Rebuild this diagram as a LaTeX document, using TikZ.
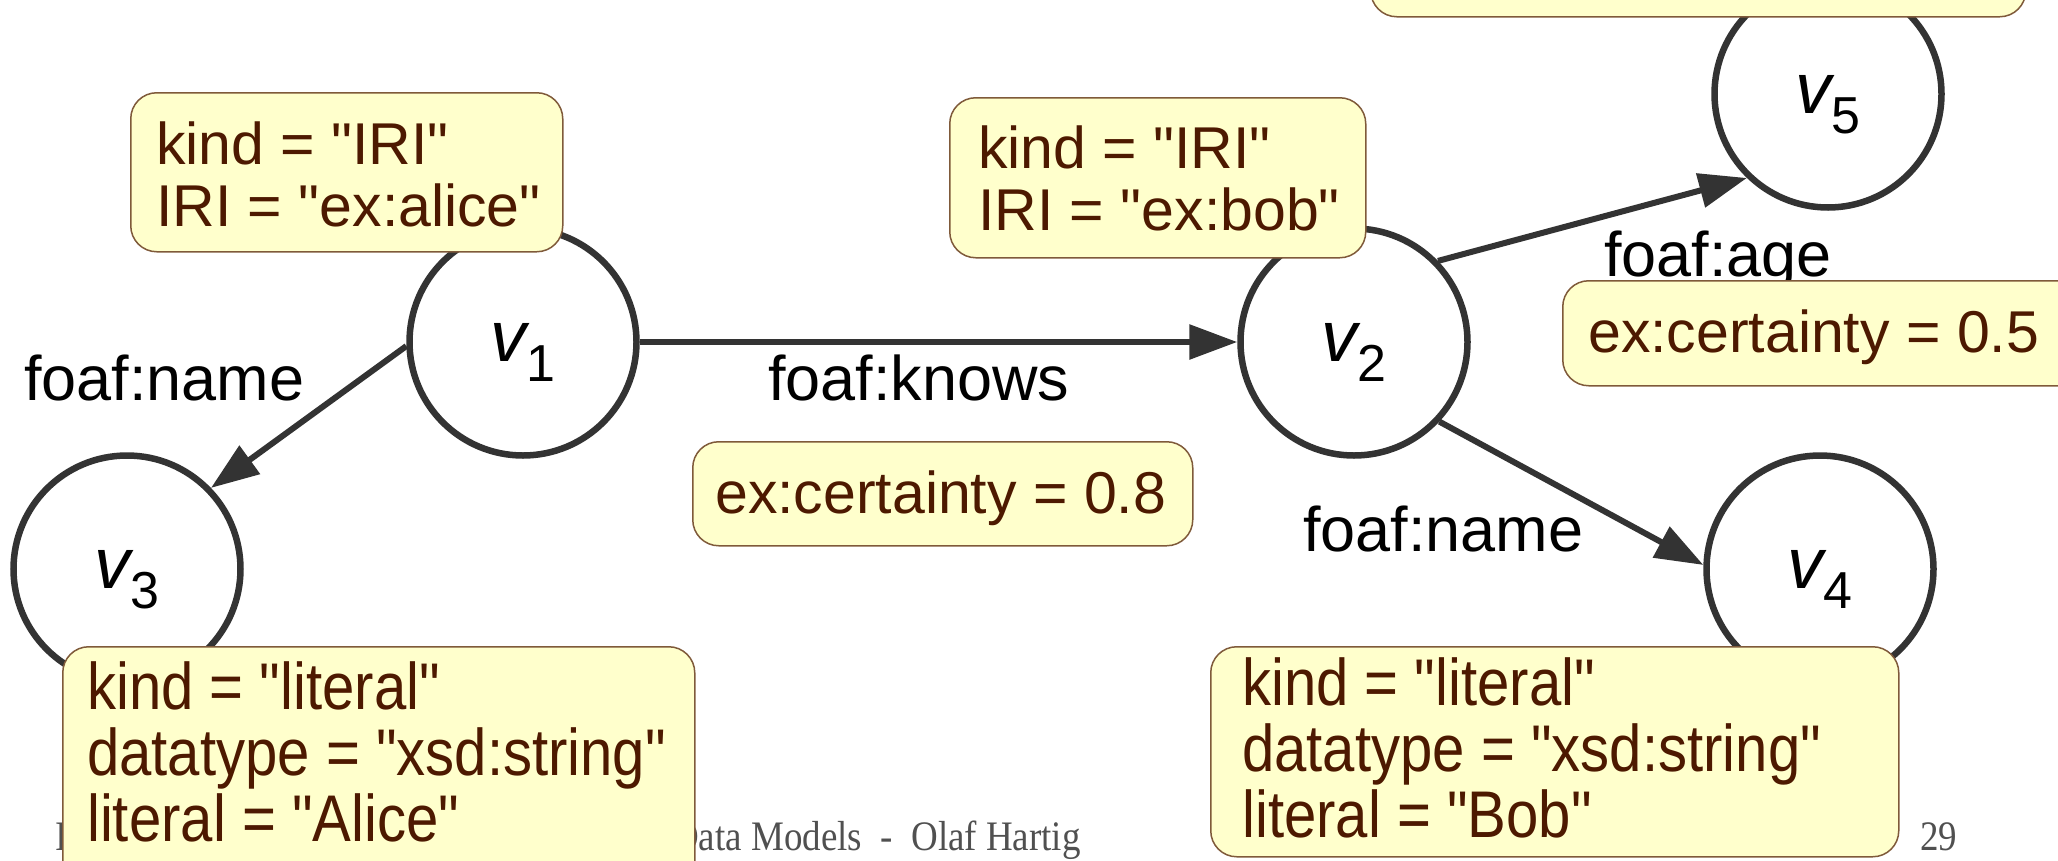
\documentclass[tikz,border=0pt]{standalone}
\usepackage{fontspec}
\newfontfamily\arialf{Liberation Sans}
\setmainfont{Liberation Sans}[Ligatures=Common]
\newfontfamily\condfont[FakeStretch=0.88]{Liberation Sans}
\newfontfamily\footfont[FakeStretch=0.88]{Liberation Serif}
\usetikzlibrary{arrows.meta}
\definecolor{edgegray}{HTML}{333333}
\definecolor{boxfill}{HTML}{FFFFCC}
\definecolor{boxline}{HTML}{7F5A3A}
\definecolor{boxtext}{HTML}{4D1900}
\definecolor{footgray}{HTML}{505050}
\newcommand\vlab[1]{{\arialf\fontsize{72}{72}\selectfont\itshape v}\raisebox{-20pt}{\arialf\fontsize{52}{52}\selectfont #1}}
\tikzset{
  vertex/.style={circle, draw=edgegray, line width=6.5pt, minimum size=227pt, inner sep=0pt, text height=38pt, text depth=0pt},
  edge/.style={draw=edgegray, line width=6pt, -{Triangle[length=48pt,width=34pt]}},
  propbox/.style={draw=boxline, fill=boxfill, line width=1.5pt, rounded corners=26pt, anchor=north west, inner sep=0pt},
  proptext/.style={text=boxtext, anchor=base west, inner sep=0pt, font=\arialf\fontsize{59}{62}\selectfont},
  proptextb/.style={text=boxtext, anchor=base west, inner sep=0pt, font=\condfont\fontsize{66}{66}\selectfont},
  elabel/.style={anchor=base west, inner sep=0pt, font=\arialf\fontsize{63}{63}\selectfont},
  foot/.style={anchor=base west, inner sep=0pt, text=footgray, font=\footfont\fontsize{42}{42}\selectfont},
}
\begin{document}
\begin{tikzpicture}[x=1pt,y=-1pt]
\useasboundingbox (0,0) rectangle (2058,860);
\clip (0,0) rectangle (2058,860);
% footer
\node[foot] (footI) at (55,850) {I};
\node[foot] (footmid) at (672,850) {Data Models\ \ -\ \ Olaf Hartig};
\node[foot] (footnum) at (1920,850) {29};
% vertices
\node[vertex] (v1) at (523,342) {\vlab{1}};
\node[vertex] (v2) at (1354,342) {\vlab{2}};
\node[vertex] (v3) at (127,569) {\vlab{3}};
\node[vertex] (v4) at (1820,569) {\vlab{4}};
\node[vertex] (v5) at (1828,94) {\vlab{5}};
% edges
\draw[edge] (v1) -- (v2);
\draw[edge] (v1.182) -- (v3.44);
\draw[edge] (v2.44) -- (v5.226);
\draw[edge] (v2.-43) -- (v4.178);
% edge labels
\node[elabel] (l13) at (24,400) {foaf:name};
\node[elabel] (l12) at (768,400) {foaf:knows};
\node[elabel] (l25) at (1604,276) {foaf:age};
\node[elabel] (l24) at (1303,551) {foaf:name};
% property boxes
\node[propbox, minimum width=655pt, minimum height=166pt] (btop) at (1370,-150) {};
\node[propbox, minimum width=432pt, minimum height=159pt] (bA) at (130,92) {};
\node[proptext] (tA) at (156,164) {\vtop{\hbox{kind = "IRI"}\hbox{IRI = "ex:alice"}}};
\node[propbox, minimum width=416pt, minimum height=160pt] (bB) at (949,97) {};
\node[proptext] (tB) at (978,168) {\vtop{\hbox{kind = "IRI"}\hbox{IRI = "ex:bob"}}};
\node[propbox, minimum width=500pt, minimum height=104pt] (bC) at (692,441) {};
\node[proptext] (tC) at (715,513) {ex:certainty = 0.8};
\node[propbox, minimum width=540pt, minimum height=105pt] (bD) at (1562,280) {};
\node[proptext] (tD) at (1588,352) {ex:certainty = 0.5};
\node[propbox, minimum width=632pt, minimum height=250pt] (bE) at (62,646) {};
\node[proptextb] (tE) at (87,709) {\vtop{\hbox{kind = "literal"}\hbox{datatype = "xsd:string"}\hbox{literal = "Alice"}}};
\node[propbox, minimum width=688pt, minimum height=210pt] (bF) at (1210,646) {};
\node[proptextb] (tF) at (1242,705) {\vtop{\hbox{kind = "literal"}\hbox{datatype = "xsd:string"}\hbox{literal = "Bob"}}};
\end{tikzpicture}
\end{document}
